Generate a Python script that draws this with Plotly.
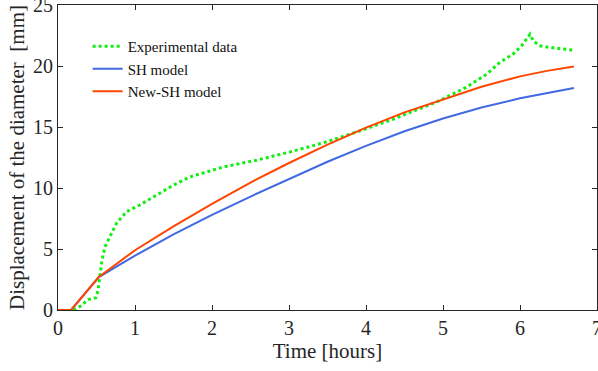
import plotly.graph_objects as go

# Experimental data (green dotted)
t_exp = [0.2, 0.3, 0.39, 0.45, 0.49, 0.52, 0.545, 0.567, 0.588, 0.62, 0.675, 0.76, 0.89, 1.06,
         1.28, 1.50, 1.71, 1.93, 2.15, 2.58, 3.01, 3.44, 3.88, 4.31, 4.70, 4.91, 5.30, 5.56,
         5.74, 5.91, 6.02, 6.13, 6.17, 6.26, 6.39, 6.56, 6.69]
v_exp = [0.0, 0.35, 0.86, 0.95, 1.0, 1.6, 3.0, 3.9, 4.6, 5.3, 6.02, 7.11, 8.06, 8.6,
         9.42, 10.24, 10.9, 11.32, 11.73, 12.28, 12.95, 13.69, 14.59, 15.54, 16.5, 17.03, 18.25, 19.3,
         20.3, 20.98, 21.66, 22.6, 22.06, 21.66, 21.52, 21.38, 21.3]

# SH model (blue)
t_sh = [0.0, 0.17, 0.53, 1.0, 1.5, 2.0, 2.5, 3.0, 3.5, 4.0, 4.5, 5.0, 5.5, 6.0, 6.35, 6.7]
v_sh = [0.0, 0.0, 2.7, 4.45, 6.2, 7.8, 9.3, 10.72, 12.15, 13.45, 14.65, 15.7, 16.6, 17.35, 17.8, 18.2]

# New-SH model (orange)
t_nsh = [0.0, 0.17, 0.53, 1.0, 1.5, 2.0, 2.5, 3.0, 3.5, 4.0, 4.5, 5.0, 5.5, 6.0, 6.35, 6.7]
v_nsh = [0.0, 0.0, 2.7, 4.9, 6.85, 8.7, 10.45, 12.05, 13.55, 14.95, 16.2, 17.25, 18.3, 19.15, 19.6, 19.95]

font_fam = "Liberation Serif"

fig = go.Figure()
fig.add_trace(go.Scatter(x=t_exp, y=v_exp, mode="lines", name="Experimental data",
                         line=dict(color="#11ee11", width=3, dash="dot")))
fig.add_trace(go.Scatter(x=t_sh, y=v_sh, mode="lines", name="SH model",
                         line=dict(color="#4169E1", width=2)))
fig.add_trace(go.Scatter(x=t_nsh, y=v_nsh, mode="lines", name="New-SH model",
                         line=dict(color="#FF4500", width=2)))

axis_common = dict(showline=True, linecolor="#262626", linewidth=1, mirror="ticks",
                   ticks="inside", ticklen=5, tickcolor="#262626", showgrid=False,
                   zeroline=False, ticklabeloverflow="allow", automargin=False,
                   tickfont=dict(family=font_fam, size=20, color="#262626"))

fig.update_layout(
    width=598, height=371,
    margin=dict(l=58, r=1, t=5, b=61),
    paper_bgcolor="white", plot_bgcolor="white",
    font=dict(family=font_fam, color="#262626"),
    xaxis=dict(range=[0, 7], tickvals=[0, 1, 2, 3, 4, 5, 6, 7],
               title=dict(text="Time [hours]", font=dict(family=font_fam, size=21), standoff=2),
               **axis_common),
    yaxis=dict(range=[0, 25], tickvals=[0, 5, 10, 15, 20, 25],
               title=dict(text="Displacement of the diameter&nbsp;&nbsp;[mm]",
                          font=dict(family=font_fam, size=21), standoff=2),
               **axis_common),
    legend=dict(x=0.055, y=0.918, xanchor="left", yanchor="top", bgcolor="rgba(0,0,0,0)",
                font=dict(family=font_fam, size=15, color="#111111"), tracegroupgap=0),
    showlegend=True,
)

fig.write_html("out.html")
